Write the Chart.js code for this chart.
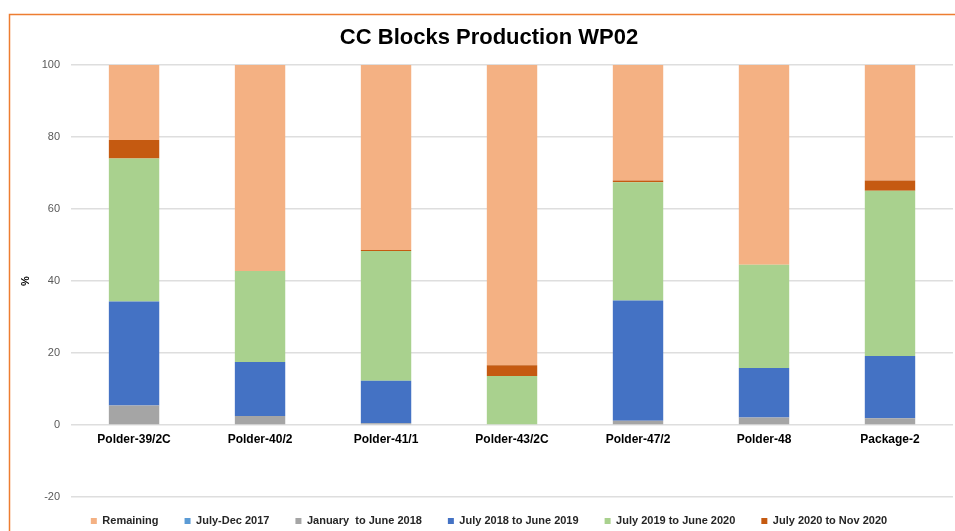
<!DOCTYPE html>
<html><head><meta charset="utf-8">
<script src="https://cdn.jsdelivr.net/npm/chart.js@4.4.1/dist/chart.umd.min.js"></script>
<style>
html,body{margin:0;padding:0;background:#fff;overflow:hidden;width:955px;height:531px;}
#wrap{position:absolute;left:0;top:0;width:980px;height:544px;}
canvas{display:block}
</style></head><body>
<div id="wrap"><canvas id="c" width="980" height="544"></canvas></div>
<script>
// ---- data ----
const categories = ['Polder-39/2C','Polder-40/2','Polder-41/1','Polder-43/2C','Polder-47/2','Polder-48','Package-2'];
const julDec2017 = [0, 0, 0, 0, 0, 0, 0];
const janJun2018 = [5.4, 2.5, 0.5, 0, 1.2, 2.1, 1.9];
const jul18Jun19 = [28.9, 15.0, 11.8, 0, 33.4, 13.7, 17.3];
const jul19Jun20 = [39.7, 25.3, 36.0, 13.6, 32.8, 28.7, 45.9];
const jul20Nov20 = [5.2, 0, 0.3, 3.0, 0.5, 0, 2.8];
const remaining  = [20.8, 57.2, 51.4, 83.4, 32.1, 55.5, 32.1];
const seriesNames = ['July-Dec 2017','January  to June 2018','July 2018 to June 2019','July 2019 to June 2020','July 2020 to Nov 2020','Remaining'];
const yMin = -20, yMax = 100, yStep = 20;
const chartTitle = 'CC Blocks Production WP02';
const yTitle = '%';

const colors = ['#5B9BD5','#A5A5A5','#4472C4','#A9D18E','#C55A11','#F4B183'];
const seriesValues = [julDec2017, janJun2018, jul18Jun19, jul19Jun20, jul20Nov20, remaining];

Chart.defaults.font.family = "'Liberation Sans', Arial, sans-serif";

const frame = {
  id: 'frame',
  beforeDraw(chart) {
    const ctx = chart.ctx;
    ctx.save();
    ctx.strokeStyle = '#ED7D31';
    ctx.lineWidth = 1.5;
    ctx.beginPath();
    ctx.moveTo(9.5, 600);
    ctx.lineTo(9.5, 14.5);
    ctx.lineTo(980, 14.5);
    ctx.stroke();
    ctx.restore();
  }
};
const legendShift = {
  id: 'legendShift',
  afterLayout(chart) {
    const lg = chart.legend;
    if (!lg) return;
    const target = chart.chartArea.bottom - 7.5;
    const dy = target - lg.top;
    lg.top += dy; lg.bottom += dy;
  }
};

new Chart(document.getElementById('c'), {
  type: 'bar',
  data: {
    labels: categories,
    datasets: seriesValues.map((vals, i) => ({
      label: seriesNames[i],
      data: vals,
      backgroundColor: colors[i],
      borderWidth: 0,
      barPercentage: 0.4,
      categoryPercentage: 1
    }))
  },
  options: {
    responsive: false,
    animation: false,
    devicePixelRatio: 1,
    layout: { padding: { left: 25, right: 27, top: 14, bottom: 0 } },
    plugins: {
      title: {
        display: true, text: chartTitle, color: '#000',
        font: { size: 22, weight: 'bold' },
        padding: { top: 11, bottom: 13.6 }
      },
      legend: {
        position: 'bottom',
        labels: {
          boxWidth: 6, boxHeight: 6, padding: 26, color: '#262626',
          font: { size: 11, weight: 'bold' },
          sort: (a, b) => {
            const k = i => i === 5 ? -1 : i;
            return k(a.datasetIndex) - k(b.datasetIndex);
          }
        }
      },
      tooltip: { enabled: false }
    },
    scales: {
      x: {
        stacked: true,
        position: { y: 0 },
        grid: { display: false, drawTicks: false },
        border: { display: false },
        ticks: { color: '#000', font: { size: 12, weight: 'bold' }, padding: 7, maxRotation: 0 }
      },
      y: {
        stacked: true,
        min: yMin, max: yMax,
        grid: { color: '#DEDEDE', lineWidth: 1.5, drawTicks: false },
        border: { display: false },
        ticks: { stepSize: yStep, color: '#595959', font: { size: 11 }, padding: 11 },
        title: { display: true, text: yTitle, color: '#000', font: { size: 11, weight: 'bold' }, padding: { top: -6, bottom: -1.5 } }
      }
    }
  },
  plugins: [frame, legendShift]
});
</script>
</body></html>
